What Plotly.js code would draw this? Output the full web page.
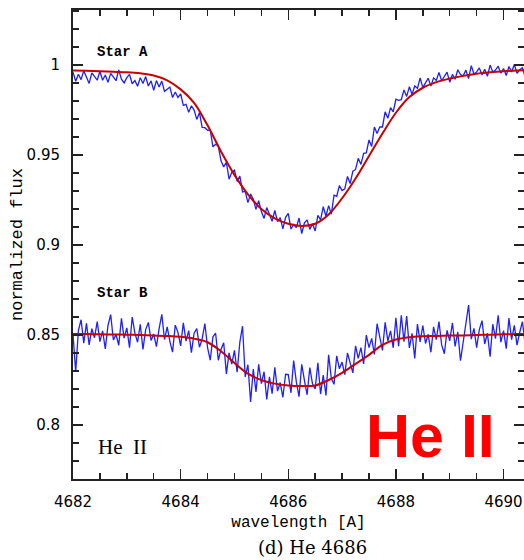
<!DOCTYPE html>
<html>
<head>
<meta charset="utf-8">
<script src="https://cdn.plot.ly/plotly-3.0.1.min.js"></script>
<style>html,body{margin:0;padding:0;background:#fff;}#chart{width:524px;height:560px;}</style>
</head>
<body>
<div id="chart"></div>
<script>
// Observed spectrum wavelength grid (Angstrom)
const wavelength = [
4682.00,4682.05,4682.10,4682.15,4682.20,4682.25,4682.30,4682.35,4682.40,4682.45,
4682.50,4682.55,4682.60,4682.65,4682.70,4682.75,4682.80,4682.85,4682.90,4682.95,
4683.00,4683.05,4683.10,4683.15,4683.20,4683.25,4683.30,4683.35,4683.40,4683.45,
4683.50,4683.55,4683.60,4683.65,4683.70,4683.75,4683.80,4683.85,4683.90,4683.95,
4684.00,4684.05,4684.10,4684.15,4684.20,4684.25,4684.30,4684.35,4684.40,4684.45,
4684.50,4684.55,4684.60,4684.65,4684.70,4684.75,4684.80,4684.85,4684.90,4684.95,
4685.00,4685.05,4685.10,4685.15,4685.20,4685.25,4685.30,4685.35,4685.40,4685.45,
4685.50,4685.55,4685.60,4685.65,4685.70,4685.75,4685.80,4685.85,4685.90,4685.95,
4686.00,4686.05,4686.10,4686.15,4686.20,4686.25,4686.30,4686.35,4686.40,4686.45,
4686.50,4686.55,4686.60,4686.65,4686.70,4686.75,4686.80,4686.85,4686.90,4686.95,
4687.00,4687.05,4687.10,4687.15,4687.20,4687.25,4687.30,4687.35,4687.40,4687.45,
4687.50,4687.55,4687.60,4687.65,4687.70,4687.75,4687.80,4687.85,4687.90,4687.95,
4688.00,4688.05,4688.10,4688.15,4688.20,4688.25,4688.30,4688.35,4688.40,4688.45,
4688.50,4688.55,4688.60,4688.65,4688.70,4688.75,4688.80,4688.85,4688.90,4688.95,
4689.00,4689.05,4689.10,4689.15,4689.20,4689.25,4689.30,4689.35,4689.40,4689.45,
4689.50,4689.55,4689.60,4689.65,4689.70,4689.75,4689.80,4689.85,4689.90,4689.95,
4690.00,4690.05,4690.10,4690.15,4690.20,4690.25,4690.30,4690.35,4690.40,4690.45,
4690.50];

// Star A observed normalized flux
const starA_obs = [
0.9960,0.9910,0.9949,0.9919,0.9969,0.9928,0.9898,0.9957,0.9937,0.9916,
0.9966,0.9916,0.9945,0.9904,0.9954,0.9934,0.9913,0.9973,0.9922,0.9901,
0.9930,0.9948,0.9896,0.9914,0.9882,0.9930,0.9898,0.9936,0.9884,0.9912,
0.9860,0.9914,0.9878,0.9911,0.9854,0.9866,0.9878,0.9820,0.9850,0.9820,
0.9840,0.9776,0.9782,0.9738,0.9774,0.9750,0.9698,0.9736,0.9654,0.9652,
0.9638,0.9640,0.9546,0.9560,0.9550,0.9468,0.9434,0.9460,0.9366,0.9404,
0.9416,0.9354,0.9383,0.9295,0.9298,0.9236,0.9284,0.9254,0.9198,0.9246,
0.9186,0.9148,0.9208,0.9170,0.9132,0.9192,0.9130,0.9152,0.9090,0.9154,
0.9176,0.9089,0.9114,0.9097,0.9150,0.9064,0.9123,0.9140,0.9087,0.9118,
0.9078,0.9165,0.9140,0.9213,0.9160,0.9219,0.9171,0.9277,0.9271,0.9330,
0.9303,0.9312,0.9381,0.9342,0.9411,0.9420,0.9482,0.9448,0.9510,0.9512,
0.9584,0.9548,0.9656,0.9620,0.9656,0.9656,0.9740,0.9704,0.9764,0.9740,
0.9810,0.9804,0.9808,0.9862,0.9826,0.9880,0.9837,0.9884,0.9871,0.9928,
0.9875,0.9901,0.9927,0.9883,0.9929,0.9915,0.9959,0.9913,0.9937,0.9961,
0.9905,0.9948,0.9921,0.9974,0.9947,0.9940,0.9972,0.9925,0.9997,0.9950,
0.9962,0.9984,0.9945,0.9977,0.9938,1.0000,0.9961,0.9972,0.9994,0.9955,
0.9981,0.9942,0.9992,0.9962,1.0003,0.9954,0.9974,0.9985,0.9935,0.9996,
0.9986];

// Star B observed normalized flux
const starB_obs = [
0.8505,0.8295,0.8525,0.8585,0.8455,0.8565,0.8445,0.8535,0.8485,0.8574,
0.8463,0.8523,0.8423,0.8553,0.8613,0.8473,0.8503,0.8443,0.8593,0.8483,
0.8540,0.8430,0.8600,0.8510,0.8460,0.8560,0.8420,0.8530,0.8570,0.8470,
0.8505,0.8435,0.8535,0.8615,0.8475,0.8545,0.8465,0.8405,0.8555,0.8515,
0.8440,0.8568,0.8466,0.8524,0.8402,0.8510,0.8536,0.8432,0.8478,0.8564,
0.8430,0.8360,0.8490,0.8510,0.8360,0.8420,0.8457,0.8284,0.8401,0.8338,
0.8415,0.8293,0.8461,0.8549,0.8267,0.8335,0.8128,0.8311,0.8184,0.8337,
0.8230,0.8296,0.8142,0.8268,0.8174,0.8320,0.8188,0.8236,0.8154,0.8282,
0.8280,0.8179,0.8358,0.8238,0.8157,0.8337,0.8248,0.8168,0.8319,0.8229,
0.8200,0.8346,0.8172,0.8278,0.8164,0.8390,0.8258,0.8226,0.8384,0.8312,
0.8350,0.8280,0.8400,0.8350,0.8290,0.8440,0.8370,0.8430,0.8340,0.8500,
0.8430,0.8481,0.8392,0.8563,0.8484,0.8415,0.8571,0.8467,0.8523,0.8429,
0.8595,0.8438,0.8610,0.8463,0.8605,0.8428,0.8509,0.8370,0.8561,0.8462,
0.8553,0.8453,0.8504,0.8404,0.8545,0.8474,0.8575,0.8445,0.8396,0.8526,
0.8467,0.8567,0.8437,0.8517,0.8357,0.8457,0.8547,0.8667,0.8477,0.8537,
0.8430,0.8530,0.8580,0.8450,0.8510,0.8380,0.8560,0.8480,0.8610,0.8460,
0.8524,0.8424,0.8594,0.8474,0.8554,0.8444,0.8514,0.8574,0.8454,0.8544,
0.8505];

// Model (fit) grid and profiles
const modelWavelength = [
4682.00,4682.25,4682.50,4682.75,4683.00,4683.25,4683.50,4683.75,4684.00,4684.25,
4684.50,4684.75,4685.00,4685.25,4685.50,4685.75,4686.00,4686.25,4686.50,4686.75,
4687.00,4687.25,4687.50,4687.75,4688.00,4688.25,4688.50,4688.75,4689.00,4689.25,
4689.50,4689.75,4690.00,4690.25,4690.50];
const starA_model = [
0.9970,0.9968,0.9966,0.9963,0.9960,0.9954,0.9942,0.9915,0.9865,0.9790,
0.9665,0.9520,0.9390,0.9282,0.9200,0.9148,0.9118,0.9106,0.9118,0.9170,
0.9260,0.9370,0.9495,0.9620,0.9735,0.9822,0.9874,0.9905,0.9925,0.9940,
0.9952,0.9960,0.9966,0.9970,0.9972];
const starB_model = [
0.8505,0.8505,0.8504,0.8503,0.8502,0.8500,0.8498,0.8495,0.8490,0.8480,
0.8460,0.8410,0.8345,0.8285,0.8250,0.8230,0.8220,0.8217,0.8220,0.8250,
0.8290,0.8340,0.8390,0.8445,0.8475,0.8488,0.8493,0.8495,0.8497,0.8498,
0.8500,0.8502,0.8504,0.8505,0.8505];

const xTickVals = [4682, 4684, 4686, 4688, 4690];
const yTickVals = [0.8, 0.85, 0.9, 0.95, 1];
const yTickText = ["0.8", "0.85", "0.9", "0.95", "1"];

const blue = '#1f1fff';
const red = '#c80000';

const traces = [
  {x: wavelength, y: starA_obs, type: 'scatter', mode: 'lines', name: 'Star A observed',
   line: {color: blue, width: 1.3}},
  {x: wavelength, y: starB_obs, type: 'scatter', mode: 'lines', name: 'Star B observed',
   line: {color: blue, width: 1.3}},
  {x: modelWavelength, y: starA_model, type: 'scatter', mode: 'lines', name: 'Star A model',
   line: {color: red, width: 2, shape: 'spline', smoothing: 1}},
  {x: modelWavelength, y: starB_model, type: 'scatter', mode: 'lines', name: 'Star B model',
   line: {color: red, width: 2, shape: 'spline', smoothing: 1}}
];

const axisCommon = {
  showgrid: false, zeroline: false, showline: true, linecolor: '#222', linewidth: 2,
  mirror: 'allticks', ticks: 'inside', tickcolor: '#222', tickwidth: 1.5, ticklen: 10,
  tickfont: {family: 'DejaVu Sans', size: 15, color: '#000'}
};

const layout = {
  width: 524, height: 560,
  margin: {l: 73, r: 0, t: 10, b: 81},
  paper_bgcolor: '#fff', plot_bgcolor: '#fff',
  showlegend: false,
  xaxis: Object.assign({}, axisCommon, {
    range: [4682, 4690.38], tickvals: xTickVals, ticktext: xTickVals.map(String),
    ticklabelstandoff: 8,
    minor: {dtick: 0.5, tick0: 4682, ticks: 'inside', ticklen: 6, tickcolor: '#222', tickwidth: 1.5},
    title: {text: 'wavelength [A]', font: {family: 'Liberation Mono', size: 16, color: '#000'}, standoff: 6}
  }),
  yaxis: Object.assign({}, axisCommon, {
    range: [0.77, 1.0306], tickvals: yTickVals, ticktext: yTickText,
    ticklabelstandoff: 8,
    minor: {dtick: 0.01, tick0: 0.8, ticks: 'inside', ticklen: 6, tickcolor: '#222', tickwidth: 1.5},
    title: {text: 'normalized flux', font: {family: 'Liberation Mono', size: 17, color: '#000'}, standoff: 0}
  }),
  annotations: [
    {text: 'Star A', xref: 'paper', yref: 'paper', x: 0.049, y: 0.91, xanchor: 'left', yanchor: 'middle',
     showarrow: false, font: {family: 'Liberation Mono', size: 14, color: '#000', weight: 'bold'}},
    {text: 'Star B', xref: 'paper', yref: 'paper', x: 0.049, y: 0.397, xanchor: 'left', yanchor: 'middle',
     showarrow: false, font: {family: 'Liberation Mono', size: 14, color: '#000', weight: 'bold'}},
    {text: 'He&nbsp;&nbsp;II', xref: 'paper', yref: 'paper', x: 0.05, y: 0.068, xanchor: 'left', yanchor: 'middle',
     showarrow: false, font: {family: 'Liberation Serif', size: 21, color: '#000'}},
    {text: '<b>He II</b>', xref: 'paper', yref: 'paper', x: 0.793, y: 0.092, xanchor: 'center', yanchor: 'middle',
     showarrow: false, font: {family: 'Liberation Sans', size: 61, color: '#ff0000'}},
    {text: '(d) He 4686', xref: 'paper', yref: 'paper', x: 0.532, y: -0.147, xanchor: 'center', yanchor: 'middle',
     showarrow: false, font: {family: 'DejaVu Serif', size: 18, color: '#000'}}
  ]
};

Plotly.newPlot('chart', traces, layout, {staticPlot: true, displayModeBar: false});
</script>
</body>
</html>
